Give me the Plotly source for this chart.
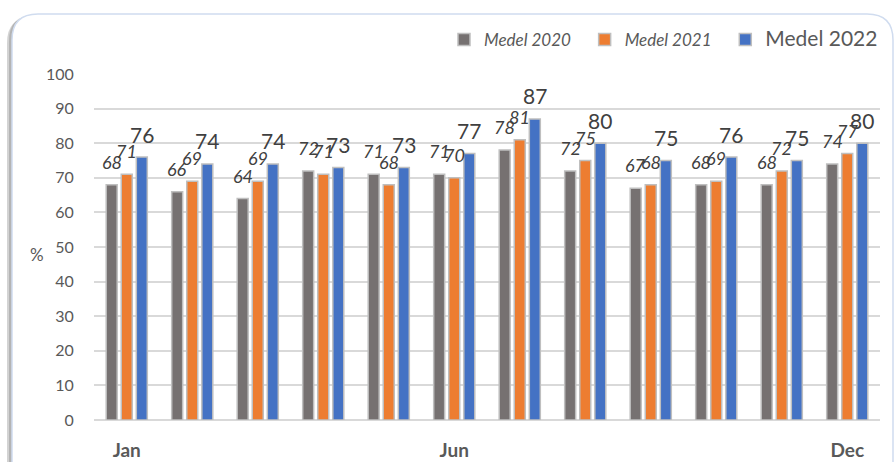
import plotly.graph_objects as go

months = ["Jan", "Feb", "Mar", "Apr", "May", "Jun",
          "Jul", "Aug", "Sep", "Oct", "Nov", "Dec"]
medel_2020 = [68, 66, 64, 72, 71, 71, 78, 72, 67, 68, 68, 74]
medel_2021 = [71, 69, 69, 71, 68, 70, 81, 75, 68, 69, 72, 77]
medel_2022 = [76, 74, 74, 73, 73, 77, 87, 80, 75, 76, 75, 80]
shown_ticks = ["Jan", "Jun", "Dec"]
y_ticks = [0, 10, 20, 30, 40, 50, 60, 70, 80, 90, 100]

W, H = 895, 462
L, R, T, B = 94, 15, 74, 42
FONT = "Lato, 'Open Sans', sans-serif"
TXT = "#404040"
PAD = "\u00a0" * 2

series = [
    ("<i>Medel 2020</i>" + PAD, medel_2020, "#767171", True, 18, -15),
    ("<i>Medel 2021</i>" + PAD, medel_2021, "#ED7D31", True, 18, 0),
    ("<span style='font-size:21px'>Medel 2022</span>", medel_2022, "#4472C4", False, 21, 15),
]

fig = go.Figure()
annotations = []
for name, vals, color, italic, fsize, dx in series:
    fig.add_trace(go.Bar(
        x=months, y=vals, name=name,
        marker=dict(color=color, line=dict(color="#bfbfbf", width=1.5)),
    ))
    for m, v in zip(months, vals):
        annotations.append(dict(
            x=m, y=v, xref="x", yref="y", text=f"<i>{v}</i>" if italic else str(v),
            showarrow=False, xshift=dx, yshift=23, yanchor="middle",
            font=dict(family=FONT, size=fsize, color=TXT),
        ))

pw, ph = W - L - R, H - T - B

# y-axis caption, drawn upright
annotations.append(dict(
    x=-(L - 37) / pw, y=(H - B - 254) / ph, xref="paper", yref="paper",
    text="%", showarrow=False, xanchor="center", yanchor="middle",
    font=dict(family=FONT, size=17, color="#595959"),
))


def px(x):
    return (x - L) / pw


def py(y):
    return (H - B - y) / ph


def card_path(x0, y0, x1, y1, r):
    return (f"M {px(x0)},{py(y1)} L {px(x0)},{py(y0 + r)} "
            f"Q {px(x0)},{py(y0)} {px(x0 + r)},{py(y0)} "
            f"L {px(x1 - r)},{py(y0)} Q {px(x1)},{py(y0)} {px(x1)},{py(y0 + r)} "
            f"L {px(x1)},{py(y1)} Z")


shapes = [
    dict(type="path", xref="paper", yref="paper", layer="below",
         path=card_path(7, 17, 893, 480, 26),
         fillcolor="rgba(110,110,110,0.30)", line=dict(width=0)),
    dict(type="path", xref="paper", yref="paper", layer="below",
         path=card_path(9, 15, 893, 478, 26),
         fillcolor="rgba(110,110,110,0.30)", line=dict(width=0)),
    dict(type="path", xref="paper", yref="paper", layer="below",
         path=card_path(12, 14, 893, 476, 26),
         fillcolor="white", line=dict(color="#d0dcef", width=1.5)),
]

fig.update_layout(
    width=W, height=H,
    margin=dict(l=L, r=R, t=T, b=B, autoexpand=False),
    paper_bgcolor="white", plot_bgcolor="rgba(0,0,0,0)",
    barmode="group", bargap=0.31, bargroupgap=0.27,
    font=dict(family=FONT, color="#595959"),
    showlegend=True,
    legend=dict(orientation="h", x=px(444), xanchor="left", y=py(40),
                yanchor="middle", font=dict(family=FONT, size=17, color="#595959"),
                bgcolor="rgba(0,0,0,0)", itemwidth=30),
    annotations=annotations,
    shapes=shapes,
    xaxis=dict(categoryorder="array", categoryarray=months, automargin=False,
               tickvals=shown_ticks, ticktext=[f"<b>{t}</b>" for t in shown_ticks],
               tickfont=dict(family=FONT, size=19, color="#595959"),
               ticks="outside", ticklen=13, tickcolor="rgba(0,0,0,0)",
               showgrid=False, showline=False, zeroline=False),
    yaxis=dict(range=[0, 100], tickvals=y_ticks, automargin=False,
               tickfont=dict(family=FONT, size=16, color="#595959"),
               ticks="outside", ticklen=16, tickcolor="rgba(0,0,0,0)",
               showgrid=True, gridcolor="#d9d9d9", gridwidth=1.5,
               zeroline=True, zerolinecolor="#d9d9d9", zerolinewidth=1.5,
               showline=False),
)

fig.write_html("out.html")
